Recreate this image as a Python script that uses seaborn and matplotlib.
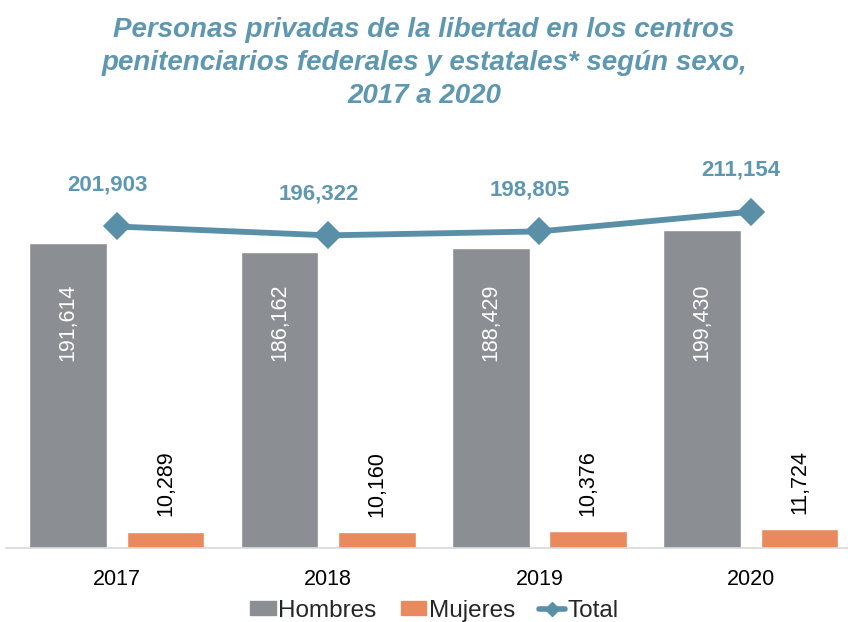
import pandas as pd
import matplotlib
matplotlib.use("Agg")
import matplotlib.pyplot as plt
from matplotlib import font_manager
from matplotlib.patches import Patch
from matplotlib.lines import Line2D
import seaborn as sns

years = ["2017", "2018", "2019", "2020"]
hombres = [191614, 186162, 188429, 199430]
mujeres = [10289, 10160, 10376, 11724]
total = [201903, 196322, 198805, 211154]

GRAY = "#8B8F93"
ORANGE = "#E8895E"
LINE_BLUE = "#5A8FA8"
TEXT_BLUE = "#5E97B0"


def main():
    sns.set_theme(style="white")
    installed = {f.name for f in font_manager.fontManager.ttflist}
    base_font = "Liberation Sans" if "Liberation Sans" in installed else "DejaVu Sans"
    narrow_font = "Liberation Sans Narrow" if "Liberation Sans Narrow" in installed else base_font
    plt.rcParams["font.family"] = [base_font, "DejaVu Sans"]

    df = pd.DataFrame({
        "year": years * 2,
        "valor": hombres + mujeres,
        "sexo": ["Hombres"] * len(years) + ["Mujeres"] * len(years),
    })

    fig = plt.figure(figsize=(8.48, 6.22), dpi=100)
    ax = fig.add_axes([0.007, 0.119, 0.993, 0.64])

    sns.barplot(
        data=df, x="year", y="valor", hue="sexo",
        palette={"Hombres": GRAY, "Mujeres": ORANGE},
        width=0.92, gap=0.2, legend=False, ax=ax,
        saturation=1,
    )

    sns.pointplot(
        x=years, y=total, color=LINE_BLUE, markers="D",
        markersize=11.5, linewidth=4.2, ax=ax,
    )

    # labels inside the Hombres bars
    for patch, val in zip(ax.containers[0], hombres):
        ax.annotate(
            f"{val:,}",
            xy=(patch.get_x() + patch.get_width() / 2, 0.567),
            xycoords=("data", "axes fraction"),
            ha="center", va="center", rotation=90,
            color="white", fontsize=15.5,
        )

    # labels above the Mujeres bars
    ax.bar_label(
        ax.containers[1], labels=[f"{v:,}" for v in mujeres],
        rotation=90, padding=11, fontsize=15.5, color="black",
    )

    # Total labels
    for i, val in enumerate(total):
        ax.annotate(
            f"{val:,}", xy=(i, val), xytext=(-7, 30),
            textcoords="offset points", ha="center", va="center",
            fontsize=16, fontweight="bold", color=TEXT_BLUE,
        )

    ax.set_ylim(0, 250000)
    ax.set_xlim(-0.525, 3.46)
    ax.set_xlabel("")
    ax.set_ylabel("")
    ax.set_yticks([])
    for side in ["top", "right", "left"]:
        ax.spines[side].set_visible(False)
    ax.spines["bottom"].set_color("#D9D9D9")
    ax.spines["bottom"].set_linewidth(1.2)
    ax.tick_params(axis="x", length=0, pad=15)
    for lbl in ax.get_xticklabels():
        lbl.set_fontfamily([narrow_font, "DejaVu Sans"])
        lbl.set_fontsize(15.5)
        lbl.set_color("black")

    fig.text(
        0.5, 1 - 17 / 622,
        "Personas privadas de la libertad en los centros\n"
        "penitenciarios federales y estatales* según sexo,\n"
        "2017 a 2020",
        ha="center", va="top", fontsize=20, fontweight="bold",
        fontstyle="italic", color=TEXT_BLUE, linespacing=1.36,
    )

    handles = [
        Patch(facecolor=GRAY, edgecolor=GRAY, label="Hombres"),
        Patch(facecolor=ORANGE, edgecolor=ORANGE, label="Mujeres"),
        Line2D([0], [0], color=LINE_BLUE, lw=4, marker="D", markersize=7, label="Total"),
    ]
    fig.legend(
        handles=handles, loc="lower center", bbox_to_anchor=(0.512, -0.035),
        ncol=3, frameon=False, fontsize=17.5, handlelength=1.05,
        handleheight=0.5, handletextpad=0.1, columnspacing=1.0,
    )

    fig.savefig("out.png", dpi=100)


if __name__ == "__main__":
    main()
